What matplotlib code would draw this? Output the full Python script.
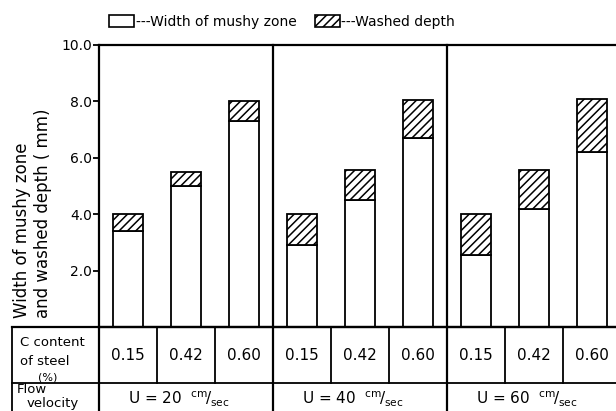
import matplotlib
matplotlib.use("Agg")
import matplotlib.pyplot as plt
from matplotlib.patches import Patch

# --- Data ---
C_CONTENT = ["0.15", "0.42", "0.60"]
VELOCITIES = ["20", "40", "60"]
# width of mushy zone (mm), per velocity group, per C content
MUSHY = [3.4, 5.0, 7.3,
         2.9, 4.5, 6.7,
         2.55, 4.2, 6.2]
# total height = mushy zone + washed depth (mm)
TOTAL = [4.0, 5.5, 8.0,
         4.0, 5.55, 8.05,
         4.0, 5.57, 8.1]
Y_TICKS = [2, 4, 6, 8, 10]

plt.rcParams['font.family'] = ['DejaVu Sans']
plt.rcParams['hatch.linewidth'] = 1.1

W, H = 616, 411
fig = plt.figure(figsize=(W / 100, H / 100), dpi=100)

# axes box placed in pixel terms; right edge lies just outside the figure
ax_left, ax_right, ax_top, ax_bottom = 99, 621, 45, 327
ax = fig.add_axes([ax_left / W, (H - ax_bottom) / H,
                   (ax_right - ax_left) / W, (ax_bottom - ax_top) / H])

n_slots = len(MUSHY)
xs = [i + 0.5 for i in range(n_slots)]
washed = [t - m for t, m in zip(TOTAL, MUSHY)]

ax.bar(xs, MUSHY, width=0.52, facecolor="white", edgecolor="black", linewidth=1.3)
ax.bar(xs, washed, bottom=MUSHY, width=0.52, facecolor="white",
       edgecolor="black", linewidth=1.3, hatch="////")

ax.set_xlim(0, n_slots)
ax.set_ylim(0, 10)
ax.set_xticks([])
ax.set_yticks(Y_TICKS)
ax.set_yticklabels([f"{v:.1f}" for v in Y_TICKS], fontsize=10)
ax.tick_params(axis="y", direction="out", length=4, width=1.3, pad=1)
for s in ax.spines.values():
    s.set_linewidth(1.6)

# group dividers through plot and table
trans = ax.get_xaxis_transform()
for g in (3, 6):
    ax.plot([g, g], [-0.4, 1], color="black", lw=1.6, transform=trans, clip_on=False)
ax.plot([0, 0], [-0.4, 0], color="black", lw=1.6, transform=trans, clip_on=False)

# --- table below the axes ---
hdr_x = -1.5
row_mid = -(383 - 327) / 282
ax.plot([hdr_x, n_slots], [0, 0], color="black", lw=1.6, transform=trans, clip_on=False)
ax.plot([hdr_x, n_slots], [row_mid, row_mid], color="black", lw=1.3, transform=trans, clip_on=False)
ax.plot([hdr_x, hdr_x], [-0.4, 0], color="black", lw=1.3, transform=trans, clip_on=False)
for i in range(1, n_slots):
    if i % 3:
        ax.plot([i, i], [row_mid, 0], color="black", lw=1.3, transform=trans, clip_on=False)

row1_y = -(355 - 327) / 282
for i, x in enumerate(xs):
    ax.text(x, row1_y, C_CONTENT[i % 3], transform=trans, ha="center", va="center",
            fontsize=11)

def px_y(py):
    return -(py - 327) / 282

def px_x(px):
    return (px - 99) / 58

ax.text(px_x(20), px_y(342), "C content", transform=trans, ha="left", va="center", fontsize=9.5)
ax.text(px_x(20), px_y(361), "of steel", transform=trans, ha="left", va="center", fontsize=9.5)
ax.text(px_x(48), px_y(377), "(%)", transform=trans, ha="center", va="center", fontsize=8)
ax.text(px_x(17), px_y(389), "Flow", transform=trans, ha="left", va="center", fontsize=9.5)
ax.text(px_x(27), px_y(403), "velocity", transform=trans, ha="left", va="center", fontsize=9.5)

for g, v in enumerate(VELOCITIES):
    ax.text(g * 3 + 0.5, px_y(399), f"U = {v}  " + r"$^{\rm cm}\!/_{\rm sec}$",
            transform=trans, ha="left", va="center", fontsize=11)

# y label (two lines, rotated)
fig.text(22 / W, (H - 318) / H, "Width of mushy zone", rotation=90,
         ha="center", va="bottom", fontsize=12)
fig.text(43 / W, (H - 318) / H, "and washed depth ( mm)", rotation=90,
         ha="center", va="bottom", fontsize=12)

# legend on top
handles = [Patch(facecolor="white", edgecolor="black", linewidth=1.2),
           Patch(facecolor="white", edgecolor="black", linewidth=1.2, hatch="////")]
fig.legend(handles, ["---Width of mushy zone", "---Washed depth"], ncol=2,
           loc="center", bbox_to_anchor=(282 / W, 1 - 22 / H), frameon=False,
           fontsize=10, handlelength=1.8, handleheight=0.9, handletextpad=0.1,
           columnspacing=1.3)

fig.savefig("out.png", dpi=100)
